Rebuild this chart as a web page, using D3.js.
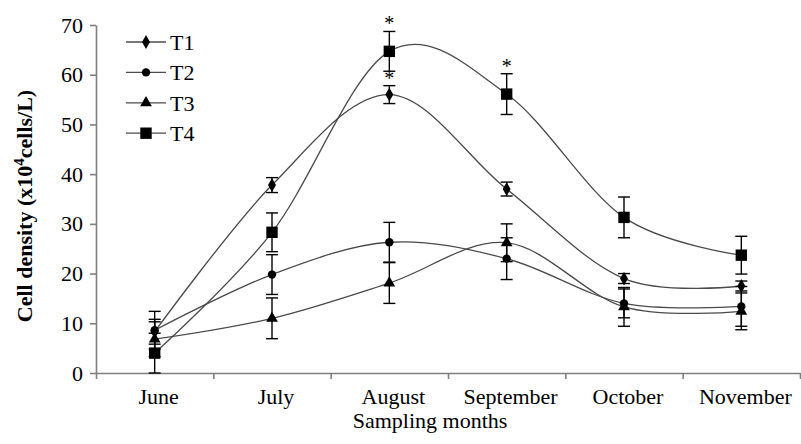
<!DOCTYPE html>
<html>
<head>
<meta charset="utf-8">
<script src="https://cdn.jsdelivr.net/npm/d3@7"></script>
<style>
    body { margin: 0; background: #fff; }
    svg text { font-family: "Liberation Serif", "Times New Roman", serif !important; fill: #000; }
    .axis path, .axis line { stroke: #7f7f7f; stroke-width: 1.6px; }
    .axis text { font-size: 22px; }
    .curve { fill: none; stroke: #4a4a4a; stroke-width: 1.3px; }
    .err { stroke: #000; stroke-width: 1.4px; }
</style>
</head>
<body>
<div id="chart"></div>
<script>
// values
let months = ['June', 'July', 'August', 'September', 'October', 'November']
let yTicks = [0, 10, 20, 30, 40, 50, 60, 70]

let t1 = [8.3, 37.8, 56.0, 37.0, 19.0, 17.5]
let t1Err = [2.5, 1.5, 1.8, 1.4, 1.0, 1.0]
let t2 = [8.6, 19.8, 26.3, 23.0, 14.0, 13.4]
let t2Err = [3.8, 4.0, 4.0, 4.2, 2.9, 4.0]
let t3 = [6.8, 11.0, 18.1, 26.2, 13.3, 12.4]
let t3Err = [3.5, 4.1, 4.1, 3.8, 3.9, 3.7]
let t4 = [4.0, 28.3, 64.7, 56.1, 31.3, 23.7]
let t4Err = [4.0, 3.9, 4.0, 4.1, 4.1, 3.8]

let seriesNames = ['T1', 'T2', 'T3', 'T4']
let seriesValues = [t1, t2, t3, t4]
let seriesErrors = [t1Err, t2Err, t3Err, t4Err]

// significant differences marked with *
let starSeries = ['T4', 'T1', 'T4']
let starMonths = ['August', 'August', 'September']

let width = 801
let height = 444
let serif = '"Liberation Serif", "Times New Roman", serif'

let plot = { left: 96, right: 800, top: 25, bottom: 373 }

let svg = d3.select('#chart')
    .append('svg')
    .attr('width', width)
    .attr('height', height)
    .attr('font-family', serif)

let x = d3.scaleBand()
    .domain(months)
    .range([plot.left, plot.right])
    .padding(0)

let y = d3.scaleLinear()
    .domain([0, 70])
    .range([plot.bottom, plot.top])

// marker shapes per series
let symbols = {
    T1: d3.symbol().type(d3.symbolDiamond).size(55),
    T2: d3.symbol().type(d3.symbolCircle).size(55),
    T3: d3.symbol().type(d3.symbolTriangle).size(60),
    T4: d3.symbol().type(d3.symbolSquare).size(130),
}

let cx = m => x(m) + x.bandwidth() / 2

// y axis
svg.append('g')
    .attr('class', 'axis')
    .attr('transform', `translate(${plot.left}, 0)`)
    .call(d3.axisLeft(y).tickValues(yTicks).tickSize(6).tickSizeOuter(0).tickPadding(7))
    .attr('font-family', serif)

// x axis: ticks between categories
let xb = d3.scaleLinear().domain([0, months.length]).range([plot.left, plot.right])
svg.append('g')
    .attr('class', 'axis')
    .attr('transform', `translate(0, ${plot.bottom})`)
    .call(d3.axisBottom(xb).tickValues(d3.range(months.length + 1)).tickFormat('').tickSize(6).tickSizeOuter(0))

svg.append('g')
    .attr('class', 'axis')
    .attr('transform', `translate(0, ${plot.bottom})`)
    .call(d3.axisBottom(x).tickSize(0).tickPadding(15))
    .attr('font-family', serif)
    .call(g => g.select('.domain').remove())
    .selectAll('text')
    .attr('dx', 4)

// axis titles
svg.append('text')
    .attr('x', 430)
    .attr('y', 428)
    .attr('text-anchor', 'middle')
    .style('font-size', '22px')
    .text('Sampling months')

let yTitle = svg.append('text')
    .attr('transform', 'translate(32, 206) rotate(-90)')
    .attr('text-anchor', 'middle')
    .style('font-size', '22px')
    .style('font-weight', 'bold')
yTitle.append('tspan').text('Cell density (x10')
yTitle.append('tspan').text('4').attr('dy', -8).style('font-size', '15px')
yTitle.append('tspan').text('cells/L)').attr('dy', 8)

let line = d3.line()
    .x(d => cx(d.month))
    .y(d => y(d.value))
    .curve(d3.curveCardinal.tension(0))

seriesNames.forEach((name, i) => {
    let data = months.map((m, j) => ({ month: m, value: seriesValues[i][j], err: seriesErrors[i][j] }))
    let g = svg.append('g').attr('class', 'series-' + name)

    g.append('path')
        .attr('class', 'curve')
        .attr('d', line(data))

    // error bars
    let bars = g.selectAll('.errbar')
        .data(data)
        .join('g')
        .attr('class', 'errbar')
    bars.append('line')
        .attr('class', 'err')
        .attr('x1', d => cx(d.month))
        .attr('x2', d => cx(d.month))
        .attr('y1', d => y(d.value - d.err))
        .attr('y2', d => y(d.value + d.err))
    bars.selectAll('.cap')
        .data(d => [d.value - d.err, d.value + d.err].map(v => ({ month: d.month, v })))
        .join('line')
        .attr('class', 'err cap')
        .attr('x1', d => cx(d.month) - 6)
        .attr('x2', d => cx(d.month) + 6)
        .attr('y1', d => y(d.v))
        .attr('y2', d => y(d.v))

    g.selectAll('.marker')
        .data(data)
        .join('path')
        .attr('class', 'marker')
        .attr('transform', d => `translate(${cx(d.month)}, ${y(d.value)})`)
        .attr('d', symbols[name])
        .attr('fill', '#000')
})

// asterisks
starSeries.forEach((name, k) => {
    let i = seriesNames.indexOf(name)
    let j = months.indexOf(starMonths[k])
    let top = seriesValues[i][j] + seriesErrors[i][j]
    svg.append('text')
        .attr('x', cx(starMonths[k]))
        .attr('y', y(top) - 1)
        .attr('text-anchor', 'middle')
        .style('font-size', '20px')
        .text('*')
})

// legend
let legend = svg.append('g').attr('class', 'legend')
seriesNames.forEach((name, i) => {
    let ly = 42 + i * 30.4
    legend.append('line')
        .attr('x1', 126).attr('x2', 166)
        .attr('y1', ly).attr('y2', ly)
        .attr('stroke', '#4a4a4a')
        .attr('stroke-width', 1.3)
    legend.append('path')
        .attr('transform', `translate(146, ${ly})`)
        .attr('d', symbols[name])
        .attr('fill', '#000')
    legend.append('text')
        .attr('x', 170)
        .attr('y', ly + 8)
        .style('font-size', '22px')
        .text(name)
})
</script>
</body>
</html>
